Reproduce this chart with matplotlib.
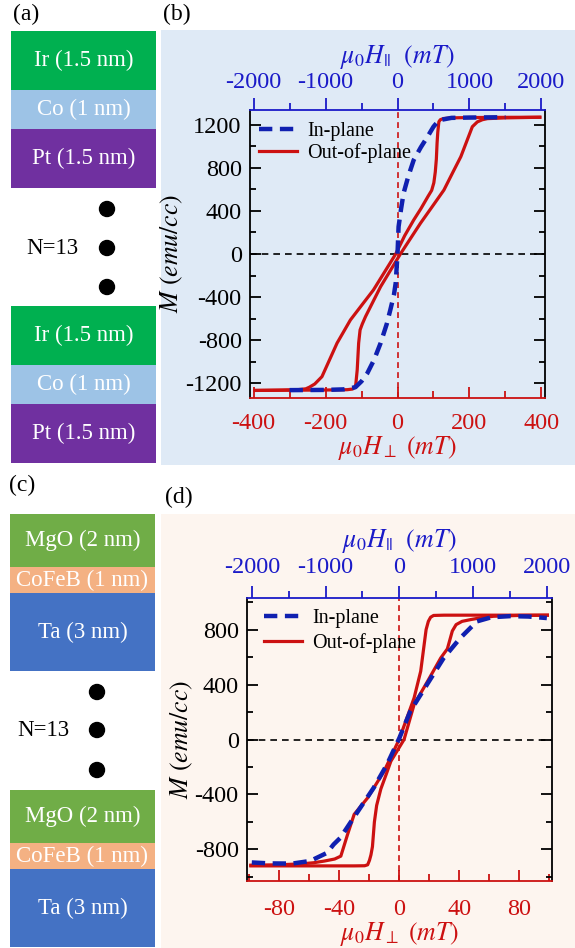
# Curvas de histerese M x H para as multicamadas Ir/Co/Pt e MgO/CoFeB/Ta
# (a),(c): esquema das camadas   (b),(d): M em funcao do campo

import matplotlib
matplotlib.use("Agg")
import matplotlib.pyplot as plt
from matplotlib.lines import Line2D
from matplotlib.patches import Rectangle, Circle
from matplotlib.ticker import MultipleLocator

plt.rcParams['font.family'] = ['Liberation Serif', 'DejaVu Serif']
plt.rcParams['mathtext.fontset'] = 'stix'
plt.rcParams['axes.unicode_minus'] = False

# ---------------- dados ----------------
CAMADAS_A = ["Ir (1.5 nm)", "Co (1 nm)", "Pt (1.5 nm)"]
CAMADAS_C = ["MgO (2 nm)", "CoFeB (1 nm)", "Ta (3 nm)"]
N_REPETICOES = 13

# (b) fora do plano, ramo descendente e ascendente (mT, emu/cc)
H_DESC_B = [400, 300, 200, 150, 128, 119, 115, 112, 110, 108, 105, 101, 95, 85, 65,
            45, 20, -5, -35, -67, -100, -131, -150, -168, -190, -210, -230, -245,
            -255, -275, -320, -400]
M_DESC_B = [1268, 1267, 1265, 1262, 1256, 1245, 1226, 1130, 1028, 880, 760, 660, 590,
            535, 420, 315, 170, 0, -162, -334, -477, -612, -722, -826, -989, -1137,
            -1205, -1235, -1250, -1257, -1261, -1265]
H_ASC_B = [-400, -300, -200, -140, -125, -119, -116, -112, -108, -104, -98, -89, -70,
           -47, -20, 8, 35, 64, 95, 129, 155, 176, 192, 208, 222, 236, 250, 300, 400]
M_ASC_B = [-1265, -1263, -1261, -1258, -1252, -1238, -1210, -1075, -826, -704, -650,
           -581, -455, -303, -154, 0, 138, 286, 432, 593, 765, 902, 1041, 1180, 1225,
           1245, 1255, 1262, 1268]
# (b) no plano (eixo superior, mT)
H_PLANO_B = [-1500, -1000, -750, -585, -500, -420, -325, -235, -150, -100, -50, -25, 0,
             15, 50, 85, 150, 225, 325, 415, 500, 575, 750, 1000, 1500]
M_PLANO_B = [-1262, -1260, -1255, -1235, -1180, -1106, -980, -826, -650, -519, -380,
             -269, 0, 253, 420, 565, 720, 871, 990, 1085, 1180, 1240, 1262, 1265, 1268]

# (d) fora do plano
H_DESC_D = [100, 60, 30, 23, 21, 19.5, 18, 16.7, 14.4, 10, 5.6, 0, -10, -21, -30,
            -34.4, -38.9, -43, -50, -57, -65, -80, -100]
M_DESC_D = [905, 905, 905, 903, 890, 860, 800, 691, 497, 303, 169, 0, -230, -425, -545,
            -691, -849, -870, -885, -897, -905, -912, -915]
H_ASC_D = [-100, -60, -30, -23, -21, -19.8, -18.8, -17.8, -16.5, -15, -12.2, -8.5, -5.5,
           3.3, 10, 19, 27.8, 32.2, 35.5, 38, 42, 47.8, 55, 63, 80, 100]
M_ASC_D = [-920, -920, -920, -919, -912, -880, -840, -780, -600, -480, -360, -250, -158,
           0, 255, 424, 594, 660, 790, 836, 860, 873, 887, 897, 903, 905]
# (d) no plano
H_PLANO_D = [-2000, -1750, -1450, -1207, -980, -891, -800, -620, -348, -167, 0, 149, 375,
             601, 827, 1053, 1250, 1505, 1750, 2000]
M_PLANO_D = [-895, -902, -903, -884, -825, -764, -716, -570, -352, -182, 10, 206, 400,
             593, 739, 860, 890, 898, 895, 884]

# ---------------- estilo ----------------
VERMELHO = "#cc1111"
AZUL = "#1a1ac8"
AZUL_LINHA = "#1020b0"
CORES_A = ["#00b050", "#9dc3e6", "#7030a0"]
CORES_C = ["#70ad47", "#f4b183", "#4472c4"]
FUNDO_B = "#dfeaf6"
FUNDO_D = "#fdf5ef"
FONTE_TICK = 17.5
FONTE_ROTULO = 18.5

W, H = 575, 948
fig = plt.figure(figsize=(W / 100, H / 100), dpi=100)
fundo = fig.add_axes([0, 0, 1, 1])
fundo.set_xlim(0, W)
fundo.set_ylim(H, 0)
fundo.axis("off")


def desenhar_pilha(x0, x1, topos, alturas, nomes, cores, x_pontos, y_pontos, x_n):
    """Desenha duas pilhas de camadas com os tres pontos entre elas."""
    for topo in topos:
        y = topo
        for nome, alt, cor in zip(nomes, alturas, cores):
            fundo.add_patch(Rectangle((x0, y), x1 - x0, alt, color=cor, lw=0))
            fundo.text((x0 + x1) / 2, y + alt / 2, nome, color="white", fontsize=16.5,
                       ha="center", va="center")
            y += alt
    for yp in y_pontos:
        fundo.add_patch(Circle((x_pontos, yp), 7.5, color="black"))
    fundo.text(x_n, y_pontos[1], "N=%d" % N_REPETICOES, fontsize=16.5,
               ha="left", va="center")


desenhar_pilha(11, 156, [31, 306], [59, 39, 59], CAMADAS_A, CORES_A,
               107, [209, 248, 287], 26)
desenhar_pilha(10, 155, [514, 790], [53, 26, 78], CAMADAS_C, CORES_C,
               97, [692, 730, 770], 17)

fundo.add_patch(Rectangle((161, 30), 414, 435, color=FUNDO_B, lw=0))
fundo.add_patch(Rectangle((161, 514), 414, 434, color=FUNDO_D, lw=0))

for txt, x, y in [("(a)", 13, 14), ("(b)", 163, 14), ("(c)", 9, 485), ("(d)", 165, 497)]:
    fundo.text(x, y, txt, fontsize=17, ha="left", va="center")


def painel(px, lim_perp, lim_par, lim_m, passo_perp, passo_par, passo_m,
           desc, asc, plano, leg_pos, leg_esp, pad_topo, pad_base, pad_rot):
    l, r, t, b = px
    ax = fig.add_axes([l / W, 1 - b / H, (r - l) / W, (b - t) / H])
    ax.set_facecolor("none")
    axt = ax.twiny()

    ax.axhline(0, color="black", ls=(0, (4, 3)), lw=1.2)
    ax.axvline(0, color=VERMELHO, ls=(0, (3.5, 2.5)), lw=1.2)
    ax.plot(desc[0], desc[1], color=VERMELHO, lw=2.3, solid_capstyle="butt")
    ax.plot(asc[0], asc[1], color=VERMELHO, lw=2.3, solid_capstyle="butt")
    axt.plot(plano[0], plano[1], color=AZUL_LINHA, lw=3.2, dashes=(3, 1.7))

    ax.set_xlim(*lim_perp)
    axt.set_xlim(*lim_par)
    ax.set_ylim(*lim_m)

    ax.xaxis.set_major_locator(MultipleLocator(passo_perp))
    ax.xaxis.set_minor_locator(MultipleLocator(passo_perp / 2))
    axt.xaxis.set_major_locator(MultipleLocator(passo_par))
    axt.xaxis.set_minor_locator(MultipleLocator(passo_par / 2))
    ax.yaxis.set_major_locator(MultipleLocator(passo_m))
    ax.yaxis.set_minor_locator(MultipleLocator(passo_m / 2))

    ax.tick_params(axis="y", which="both", direction="in", left=True, right=True,
                   labelsize=FONTE_TICK, width=1.3, pad=6)
    ax.tick_params(axis="y", which="major", length=8)
    ax.tick_params(axis="y", which="minor", length=4.5)
    ax.tick_params(axis="x", which="both", direction="in", colors=VERMELHO,
                   labelsize=FONTE_TICK, width=1.3, pad=pad_base)
    ax.tick_params(axis="x", which="major", length=8)
    ax.tick_params(axis="x", which="minor", length=5)
    axt.tick_params(axis="x", which="both", direction="out", colors=AZUL,
                    labelsize=FONTE_TICK, width=1.3, pad=pad_topo)
    axt.tick_params(axis="x", which="major", length=8.5)
    axt.tick_params(axis="x", which="minor", length=5)

    for lado in ["left", "right"]:
        ax.spines[lado].set_linewidth(1.3)
        axt.spines[lado].set_visible(False)
    ax.spines["top"].set_visible(False)
    axt.spines["bottom"].set_visible(False)
    ax.spines["bottom"].set_color(VERMELHO)
    ax.spines["bottom"].set_linewidth(1.3)
    axt.spines["top"].set_color(AZUL)
    axt.spines["top"].set_linewidth(1.3)

    ax.set_xlabel(r"$\mu_0H_{\perp}\ (mT)$", color=VERMELHO, fontsize=FONTE_ROTULO,
                  labelpad=0)
    axt.set_xlabel(r"$\mu_0H_{||}\ \ (mT)$", color=AZUL, fontsize=FONTE_ROTULO,
                   labelpad=pad_rot)
    ax.set_ylabel(r"$M\ (emu/cc)$", fontsize=FONTE_ROTULO, labelpad=0)

    alcas = [Line2D([], [], color=AZUL_LINHA, lw=3.2, dashes=(3, 1.7)),
             Line2D([], [], color=VERMELHO, lw=2.3)]
    axt.legend(alcas, ["In-plane", "Out-of-plane"], loc="upper left",
               bbox_to_anchor=leg_pos, frameon=False, fontsize=14.5,
               handlelength=1.9, handletextpad=0.5, labelspacing=leg_esp,
               borderaxespad=0, borderpad=0)
    return ax, axt


painel((250, 545, 110, 398), (-410, 410), (-2050, 2050), (-1335, 1335),
       200, 1000, 400,
       (H_DESC_B, M_DESC_B), (H_ASC_B, M_ASC_B), (H_PLANO_B, M_PLANO_B),
       (0.03, 0.96), 0.12, 4, 11, 6)
painel((247, 552, 598, 881), (-101.5, 102), (-2065, 2070), (-1030, 1030),
       40, 1000, 400,
       (H_DESC_D, M_DESC_D), (H_ASC_D, M_ASC_D), (H_PLANO_D, M_PLANO_D),
       (0.055, 0.96), 0.22, 6, 13, 7)

fig.savefig("out.png", dpi=100)
